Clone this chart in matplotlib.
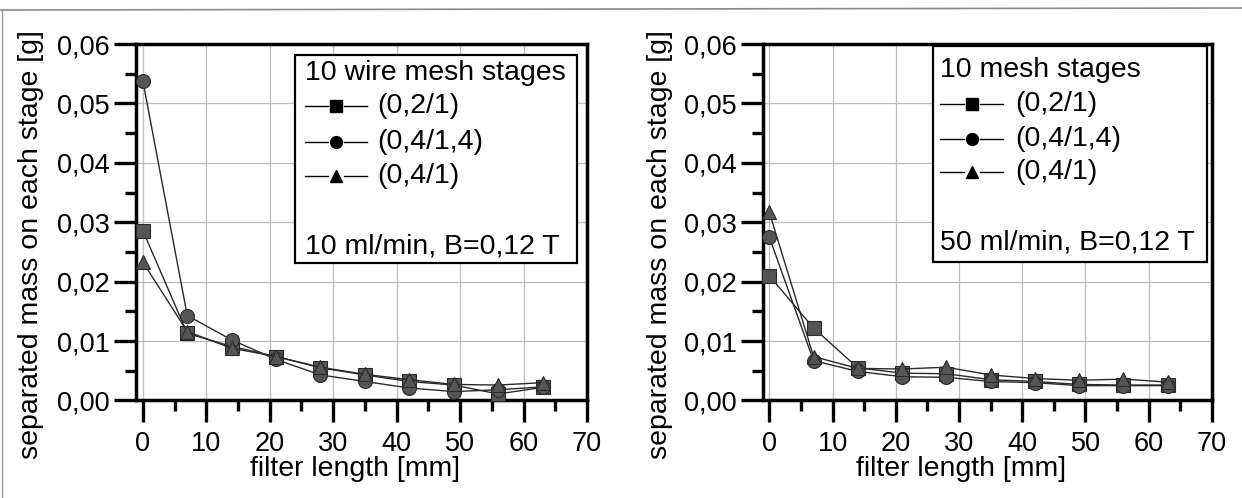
import matplotlib
matplotlib.use("Agg")
import matplotlib.pyplot as plt
from matplotlib.ticker import MultipleLocator, FuncFormatter
from matplotlib.lines import Line2D
from matplotlib.patches import Rectangle

plt.rcParams['font.family'] = ['Liberation Sans', 'DejaVu Sans']

# filter length positions of the 10 stages [mm]
length = [0, 7, 14, 21, 28, 35, 42, 49, 56, 63]

# 10 ml/min, B=0,12 T
left_sq = [0.0286, 0.0113, 0.0091, 0.0074, 0.0055, 0.0043, 0.0032, 0.0026, 0.0011, 0.0022]
left_ci = [0.0538, 0.0143, 0.0102, 0.0069, 0.0043, 0.0032, 0.0021, 0.0015, 0.0018, 0.0023]
left_tr = [0.0233, 0.0116, 0.0088, 0.0074, 0.0056, 0.0044, 0.0035, 0.0027, 0.0026, 0.0030]

# 50 ml/min, B=0,12 T
right_sq = [0.0210, 0.0122, 0.0055, 0.0046, 0.0045, 0.0035, 0.0032, 0.0027, 0.0026, 0.0026]
right_ci = [0.0275, 0.0067, 0.0049, 0.0040, 0.0039, 0.0032, 0.0030, 0.0025, 0.0025, 0.0025]
right_tr = [0.0317, 0.0074, 0.0054, 0.0053, 0.0056, 0.0043, 0.0037, 0.0034, 0.0036, 0.0031]

series_labels = ['(0,2/1)', '(0,4/1,4)', '(0,4/1)']
markers = ['s', 'o', '^']

fig = plt.figure(figsize=(12.42, 4.98), dpi=100)
ax1 = fig.add_axes([0.1099, 0.1958, 0.3627, 0.7158])
ax2 = fig.add_axes([0.6143, 0.1958, 0.3615, 0.7158])


def comma(v, pos):
    return ('%.2f' % v).replace('.', ',')


def setup(ax):
    ax.set_xlim(-1, 70)
    ax.set_ylim(0, 0.06)
    ax.xaxis.set_major_locator(MultipleLocator(10))
    ax.xaxis.set_minor_locator(MultipleLocator(5))
    ax.yaxis.set_major_locator(MultipleLocator(0.01))
    ax.yaxis.set_minor_locator(MultipleLocator(0.005))
    ax.yaxis.set_major_formatter(FuncFormatter(comma))
    ax.grid(True, which='major', color='#bdbdbd', linewidth=0.9)
    ax.set_axisbelow(True)
    for s in ax.spines.values():
        s.set_linewidth(2.5)
    ax.tick_params(which='major', direction='out', length=16, width=2.4,
                   labelsize=19.5, pad=3)
    ax.tick_params(which='minor', direction='out', length=8, width=2.4)
    ax.tick_params(axis='x', which='major', pad=6)


def box(ax, x0, x1, ytop, ybot, title, cond, rows, xs):
    ax.add_patch(Rectangle((x0, ybot), x1 - x0, ytop - ybot, transform=ax.transAxes,
                           facecolor='white', edgecolor='black', linewidth=1.6, zorder=5))
    tx, lx0, lx1, mx, lbx = xs
    gap = 0.018
    ax.text(tx, rows[0], title, transform=ax.transAxes, fontsize=20.5,
            va='center', ha='left', zorder=6)
    for lab, mk, yy in zip(series_labels, markers, rows[1:4]):
        ax.add_line(Line2D([lx0, mx - gap], [yy, yy], transform=ax.transAxes,
                           color='black', linewidth=1.0, zorder=6))
        ax.add_line(Line2D([mx + gap, lx1], [yy, yy], transform=ax.transAxes,
                           color='black', linewidth=1.0, zorder=6))
        ax.add_line(Line2D([mx], [yy], transform=ax.transAxes, marker=mk,
                           markersize=8.5, color='black', linestyle='none', zorder=7))
        ax.text(lbx, yy, lab, transform=ax.transAxes, fontsize=20.5,
                va='center', ha='left', zorder=6)
    ax.text(tx, rows[4], cond, transform=ax.transAxes, fontsize=20.5,
            va='center', ha='left', zorder=6)


def draw(ax, sq, ci, tr):
    for ys, mk in zip([sq, ci, tr], markers):
        ax.plot(length, ys, color='#2a2a2a', linewidth=1.0, marker=mk,
                markersize=10, markerfacecolor='#555555', markeredgecolor='#2a2a2a',
                markeredgewidth=0.8, zorder=3, clip_on=False)


setup(ax1)
setup(ax2)
draw(ax1, left_sq, left_ci, left_tr)
draw(ax2, right_sq, right_ci, right_tr)

box(ax1, 0.352, 0.978, 0.969, 0.386, '10 wire mesh stages', '10 ml/min, B=0,12 T',
    [0.919, 0.826, 0.725, 0.630, 0.431], [0.374, 0.374, 0.512, 0.443, 0.534])
box(ax2, 0.379, 0.989, 0.995, 0.388, '10 mesh stages', '50 ml/min, B=0,12 T',
    [0.927, 0.832, 0.734, 0.641, 0.442], [0.394, 0.394, 0.535, 0.465, 0.563])

ylab = 'separated mass on each stage [g]'
fig.text(31 / 1242, 1 - 245 / 498, ylab, rotation=90, fontsize=20.5, ha='center', va='center')
fig.text(660 / 1242, 1 - 245 / 498, ylab, rotation=90, fontsize=20.5, ha='center', va='center')
fig.text(355 / 1242, 1 - 469 / 498, 'filter length [mm]', fontsize=20.5, ha='center', va='center')
fig.text(961 / 1242, 1 - 469 / 498, 'filter length [mm]', fontsize=20.5, ha='center', va='center')

# scan edge lines
fig.add_artist(Line2D([0, 1], [1 - 10 / 498, 1 - 8 / 498], transform=fig.transFigure,
                      color='#8a8a8a', linewidth=1.2))
fig.add_artist(Line2D([2 / 1242, 2 / 1242], [0, 1 - 10 / 498], transform=fig.transFigure,
                      color='#9a9a9a', linewidth=1.0))

fig.savefig('out.png', dpi=100)
